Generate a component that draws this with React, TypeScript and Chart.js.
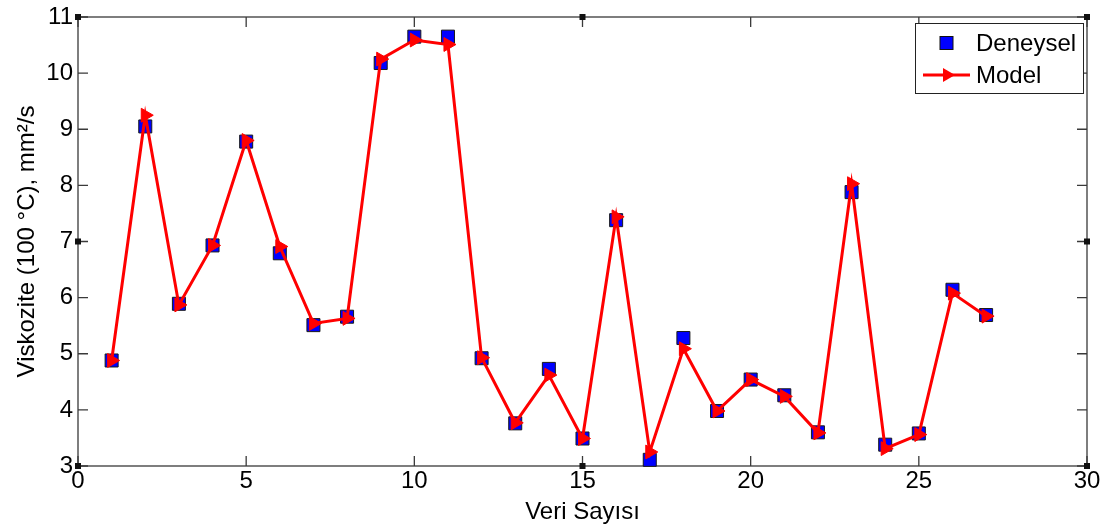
import { useEffect, useRef } from 'react';
import { Chart, registerables } from 'chart.js';

Chart.register(...registerables);

const veriNo = [1, 2, 3, 4, 5, 6, 7, 8, 9, 10, 11, 12, 13, 14, 15, 16, 17, 18, 19, 20, 21, 22, 23, 24, 25, 26, 27];
const deneysel = [4.88, 9.05, 5.89, 6.93, 8.78, 6.79, 5.51, 5.66, 10.18, 10.65, 10.65, 4.92, 3.76, 4.73, 3.49, 7.38, 3.11, 5.28, 3.98, 4.54, 4.26, 3.6, 7.88, 3.38, 3.58, 6.14, 5.69];
const model = [4.88, 9.25, 5.87, 6.93, 8.8, 6.91, 5.54, 5.63, 10.25, 10.59, 10.51, 4.93, 3.77, 4.62, 3.49, 7.44, 3.25, 5.09, 3.98, 4.54, 4.24, 3.59, 8.03, 3.31, 3.56, 6.08, 5.67];
const seriesNames = ['Deneysel', 'Model'];
const xTitle = 'Veri Sayısı';
const yTitle = 'Viskozite (100 °C), mm²/s';
const xMin = 0, xMax = 30, xStep = 5;
const yMin = 3, yMax = 11, yStep = 1;

const FONT = '"Liberation Sans", Arial, sans-serif';
const BLUE = '#0000ff';
const RED = '#ff0000';

const boxPlugin = {
  id: 'matlabBox',
  beforeDatasetsDraw(chart: any) {
    const { ctx, chartArea: a, scales } = chart;
    ctx.save();
    ctx.strokeStyle = '#3a3a3a';
    ctx.lineWidth = 1.3;
    ctx.strokeRect(a.left, a.top, a.right - a.left, a.bottom - a.top);
    const tl = 10;
    ctx.beginPath();
    scales.x.ticks.forEach((t: any) => {
      const px = scales.x.getPixelForValue(t.value);
      ctx.moveTo(px, a.bottom);
      ctx.lineTo(px, a.bottom - tl);
      ctx.moveTo(px, a.top);
      ctx.lineTo(px, a.top + tl);
    });
    scales.y.ticks.forEach((t: any) => {
      const py = scales.y.getPixelForValue(t.value);
      ctx.moveTo(a.left, py);
      ctx.lineTo(a.left + tl, py);
      ctx.moveTo(a.right, py);
      ctx.lineTo(a.right - tl, py);
    });
    ctx.stroke();
    ctx.restore();
  },
  afterDraw(chart: any) {
    const { ctx, scales } = chart;
    ctx.save();
    ctx.fillStyle = '#111';
    const xm = [scales.x.getPixelForValue(0), scales.x.getPixelForValue(15), scales.x.getPixelForValue(30)];
    const ym = [scales.y.getPixelForValue(11), scales.y.getPixelForValue(7), scales.y.getPixelForValue(3)];
    const marks: [number, number][] = [
      [xm[0], ym[0]], [xm[0], ym[1]], [xm[0], ym[2]],
      [xm[1], ym[0]], [xm[1], ym[2]],
      [xm[2], ym[0]], [xm[2], ym[1]], [xm[2], ym[2]],
    ];
    marks.forEach(([x, y]) => ctx.fillRect(x - 3, y - 3, 6, 6));

    const L = 915, T = 23, R = 1083, B = 93;
    ctx.fillStyle = '#fff';
    ctx.fillRect(L, T, R - L, B - T);
    ctx.strokeStyle = '#222';
    ctx.lineWidth = 1;
    ctx.strokeRect(L + 0.5, T + 0.5, R - L, B - T);
    const y1 = 43, y2 = 75;
    ctx.fillStyle = BLUE;
    ctx.fillRect(940, y1 - 6.5, 13, 13);
    ctx.strokeStyle = '#111';
    ctx.strokeRect(940, y1 - 6.5, 13, 13);
    ctx.strokeStyle = RED;
    ctx.lineWidth = 3;
    ctx.beginPath();
    ctx.moveTo(923, y2);
    ctx.lineTo(970, y2);
    ctx.stroke();
    ctx.fillStyle = RED;
    ctx.beginPath();
    ctx.moveTo(955, y2);
    ctx.lineTo(943, y2 - 7);
    ctx.lineTo(943, y2 + 7);
    ctx.closePath();
    ctx.fill();
    ctx.fillStyle = '#000';
    ctx.font = `24px ${FONT}`;
    ctx.textBaseline = 'middle';
    ctx.textAlign = 'left';
    ctx.fillText(seriesNames[0], 976, y1 + 1);
    ctx.fillText(seriesNames[1], 976, y2 + 1);
    ctx.restore();
  },
};

export default function App() {
  const ref = useRef<HTMLCanvasElement>(null);
  useEffect(() => {
    document.body.style.margin = '0';
    const chart = new Chart(ref.current!, {
      type: 'line',
      data: {
        datasets: [
          {
            label: seriesNames[0],
            data: veriNo.map((x, i) => ({ x, y: deneysel[i] })),
            showLine: false,
            pointStyle: 'rect',
            pointRadius: 9.2,
            pointBackgroundColor: BLUE,
            pointBorderColor: '#1a1a1a',
            pointBorderWidth: 1,
            borderColor: BLUE,
            backgroundColor: BLUE,
            order: 2,
            clip: false as any,
          },
          {
            label: seriesNames[1],
            data: veriNo.map((x, i) => ({ x, y: model[i] })),
            borderColor: RED,
            backgroundColor: RED,
            borderWidth: 3,
            pointStyle: 'triangle',
            pointRotation: 90,
            pointRadius: 8,
            pointBackgroundColor: RED,
            pointBorderColor: RED,
            pointBorderWidth: 1,
            tension: 0,
            order: 1,
            clip: false as any,
          },
        ],
      },
      options: {
        animation: false,
        responsive: false,
        layout: { padding: { left: 0, right: 27, top: 15, bottom: 0 } },
        plugins: { legend: { display: false }, tooltip: { enabled: false } },
        scales: {
          x: {
            type: 'linear',
            min: xMin,
            max: xMax,
            grid: { display: false, drawTicks: false },
            border: { display: false },
            ticks: { stepSize: xStep, padding: 3, color: '#000', font: { family: FONT, size: 24, lineHeight: 1 }, maxRotation: 0 },
            title: { display: true, text: xTitle, color: '#000', font: { family: FONT, size: 24, lineHeight: 1.2 }, padding: { top: 0, bottom: 3 } },
            afterFit: (s: any) => { s.height = 64; },
          },
          y: {
            type: 'linear',
            min: yMin,
            max: yMax,
            grid: { display: false, drawTicks: false },
            border: { display: false },
            ticks: { stepSize: yStep, padding: 5, color: '#000', font: { family: FONT, size: 24, lineHeight: 1 } },
            title: { display: true, text: yTitle, color: '#000', font: { family: FONT, size: 24, lineHeight: 1.2 }, padding: { top: 13, bottom: 0 } },
            afterFit: (s: any) => { s.width = 78; },
          },
        },
      },
      plugins: [boxPlugin],
    });
    return () => chart.destroy();
  }, []);
  return <canvas ref={ref} width={1114} height={530} style={{ display: 'block' }} />;
}
